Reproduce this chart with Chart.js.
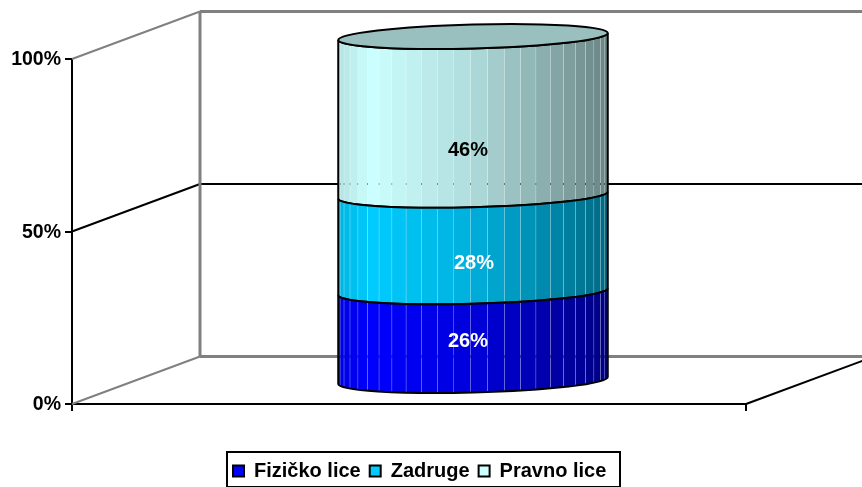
<!DOCTYPE html>
<html lang="en">
<head>
  <meta charset="UTF-8">
  <title>Cylinder chart</title>
  <script src="https://cdn.jsdelivr.net/npm/chart.js"></script>
  <style>
    html, body { margin: 0; background: #fff; }
    canvas { display: block; }
  </style>
</head>
<body>
  <canvas id="myChart" width="862" height="487"></canvas>

  <script>
    // Chart data
    const categories = [''];
    const seriesNames = ['Fizičko lice', 'Zadruge', 'Pravno lice'];
    const fizicko = [26];
    const zadruge = [28];
    const pravno = [46];
    const yTicks = [0, 50, 100];

    // Series colours as [r, g, b], shaded per facet on the cylinder
    const baseColors = [[0, 0, 255], [0, 204, 255], [204, 255, 255]];
    const labelColors = ['#fff', '#fff', '#000'];
    const labelNudge = [[-5, 5], [1, 20], [-5, 35]];

    // 3D look
    const WALL = { dx: 128, dy: -47.5 };
    const BAR = { dx: 64, dy: -22.5, ry: 12, tilt: -0.026 };
    const FONT = 'bold 20px "Liberation Sans", Arial, sans-serif';

    // Brightness across the cylinder, from left edge to right edge
    function shade(u) {
      const stops = [[0, 0.88], [0.12, 1], [0.5, 0.86], [1, 0.52]];
      for (let i = 1; i < stops.length; i++) {
        if (u <= stops[i][0]) {
          const t = (u - stops[i - 1][0]) / (stops[i][0] - stops[i - 1][0]);
          return stops[i - 1][1] + t * (stops[i][1] - stops[i - 1][1]);
        }
      }
      return stops[stops.length - 1][1];
    }

    function rgb(c, k) {
      return 'rgb(' + c.map(v => Math.round(v * k)).join(',') + ')';
    }

    function segmentPath(ctx, cx, rx, yTop, yBottom) {
      ctx.beginPath();
      ctx.ellipse(cx, yTop, rx, BAR.ry, BAR.tilt, 0, Math.PI);
      ctx.ellipse(cx, yBottom, rx, BAR.ry, BAR.tilt, Math.PI, 0, true);
      ctx.closePath();
    }

    function drawSegment(ctx, chart, meta, index) {
      const el = meta.data[0];
      const cx = el.x + BAR.dx;
      const rx = el.width / 2;
      const yTop = el.y + BAR.dy;
      const yBottom = el.base + BAR.dy;
      const color = baseColors[index];

      ctx.save();
      segmentPath(ctx, cx, rx, yTop, yBottom);
      ctx.save();
      ctx.clip();
      // Separate facets: the thin seams between them let the back show through
      const step = 7.2 * Math.PI / 180;
      for (let a = -step + 2.7 * Math.PI / 180; a < Math.PI; a += step) {
        const from = Math.max(a, 0);
        const to = Math.min(a + step, Math.PI);
        const x0 = cx - rx * Math.cos(from);
        const x1 = cx - rx * Math.cos(to);
        ctx.fillStyle = rgb(color, shade(((x0 + x1) / 2 - cx + rx) / (2 * rx)));
        ctx.fillRect(x0, yTop - 30, x1 - x0 - 0.3, yBottom - yTop + 60);
      }
      ctx.restore();
      ctx.strokeStyle = '#000';
      ctx.lineWidth = 2;
      ctx.stroke();

      // Lid of the top segment
      if (index === baseColors.length - 1) {
        ctx.beginPath();
        ctx.ellipse(cx, yTop, rx, BAR.ry, BAR.tilt, 0, Math.PI * 2);
        ctx.fillStyle = rgb(color, 0.75);
        ctx.fill();
        ctx.stroke();
      }
      ctx.restore();
    }

    const cylinderPlugin = {
      id: 'cylinder',
      afterLayout(chart) {
        // Legend sits under the plot; right is left wide so its row does not wrap
        const legend = chart.legend;
        legend.left = 224;
        legend.right = 700;
        legend.top = 452;
        legend.bottom = 487;
      },
      beforeDatasetsDraw(chart) {
        const ctx = chart.ctx;
        const { x, y } = chart.scales;
        const left = x.left;
        const right = x.right;
        const backX = left + WALL.dx;
        ctx.save();
        ctx.lineCap = 'butt';
        yTicks.forEach((v, i) => {
          const py = y.getPixelForValue(v);
          const black = i === 1;
          ctx.strokeStyle = black ? '#000' : '#808080';
          ctx.lineWidth = 2;
          ctx.beginPath();
          ctx.moveTo(left, py);
          ctx.lineTo(backX, py + WALL.dy);
          ctx.stroke();
          ctx.lineWidth = black ? 2 : 3;
          ctx.beginPath();
          ctx.moveTo(backX, py + WALL.dy);
          ctx.lineTo(chart.width, py + WALL.dy);
          ctx.stroke();
        });
        // Back corner of the walls
        ctx.strokeStyle = '#808080';
        ctx.lineWidth = 3;
        ctx.beginPath();
        ctx.moveTo(backX, y.getPixelForValue(100) + WALL.dy);
        ctx.lineTo(backX, y.getPixelForValue(0) + WALL.dy);
        ctx.stroke();
        // Right edge of the floor
        ctx.strokeStyle = '#000';
        ctx.lineWidth = 2;
        ctx.beginPath();
        ctx.moveTo(right, y.getPixelForValue(0));
        ctx.lineTo(right + WALL.dx, y.getPixelForValue(0) + WALL.dy);
        ctx.stroke();
        ctx.restore();
      },
      beforeDatasetDraw(chart, args) {
        drawSegment(chart.ctx, chart, args.meta, args.index);
        return false;
      },
      afterDatasetsDraw(chart) {
        const ctx = chart.ctx;
        ctx.save();
        ctx.font = FONT;
        ctx.textAlign = 'center';
        ctx.textBaseline = 'middle';
        chart.data.datasets.forEach((ds, i) => {
          const el = chart.getDatasetMeta(i).data[0];
          ctx.fillStyle = labelColors[i];
          ctx.fillText(ds.data[0] + '%',
            el.x + BAR.dx + labelNudge[i][0],
            (el.y + el.base) / 2 + BAR.dy + labelNudge[i][1]);
        });
        ctx.restore();
      },
      afterDraw(chart) {
        const ctx = chart.ctx;
        ctx.save();
        ctx.strokeStyle = '#000';
        ctx.lineWidth = 2;
        ctx.strokeRect(227, 452, 393, 35);
        ctx.restore();
      }
    };

    let ctx = document.getElementById('myChart').getContext('2d');

    new Chart(ctx, {
      type: 'bar',
      data: {
        labels: categories,
        datasets: [fizicko, zadruge, pravno].map((values, i) => ({
          label: seriesNames[i],
          data: values,
          backgroundColor: rgb(baseColors[i], 1),
          borderColor: '#000',
          borderWidth: 2
        }))
      },
      options: {
        responsive: false,
        animation: false,
        barPercentage: 0.4,
        categoryPercentage: 1,
        layout: { padding: { top: 59, right: 116, left: 0, bottom: 0 } },
        plugins: {
          tooltip: { enabled: false },
          legend: {
            position: 'bottom',
            align: 'start',
            labels: {
              color: '#000',
              font: { family: '"Liberation Sans", Arial, sans-serif', size: 20, weight: 'bold' },
              boxWidth: 11,
              boxHeight: 11,
              padding: 9
            }
          }
        },
        scales: {
          x: {
            stacked: true,
            afterFit(scale) { scale.height = 44; },
            ticks: { display: false },
            grid: { drawOnChartArea: false, tickLength: 7, tickColor: '#000', lineWidth: 2 },
            border: { color: '#000', width: 2 }
          },
          y: {
            stacked: true,
            min: 0,
            max: 100,
            afterFit(scale) { scale.width = 72; },
            afterBuildTicks(scale) { scale.ticks = yTicks.map(v => ({ value: v })); },
            ticks: {
              color: '#000',
              padding: 4,
              labelOffset: 1,
              font: { family: '"Liberation Sans", Arial, sans-serif', size: 19.5, weight: 'bold' },
              callback: v => v + '%'
            },
            grid: { drawOnChartArea: false, tickLength: 7, tickColor: '#000', lineWidth: 2 },
            border: { color: '#000', width: 2 }
          }
        }
      },
      plugins: [cylinderPlugin]
    });
  </script>
</body>
</html>
